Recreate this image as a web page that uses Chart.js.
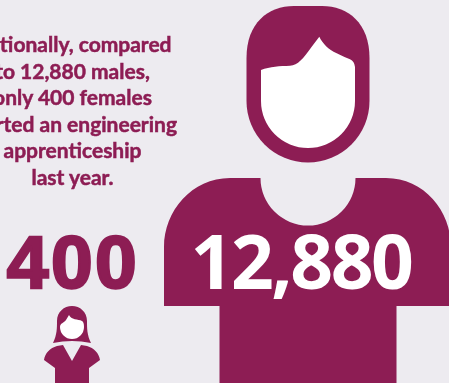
<!DOCTYPE html>
<html>
<head>
<meta charset="utf-8">
<title>Engineering apprenticeship starts</title>
<script src="https://cdn.jsdelivr.net/npm/chart.js@4"></script>
<style>
  html, body { margin: 0; padding: 0; background: #edebf0; overflow: hidden; }
  #wrap { position: relative; width: 449px; height: 383px; overflow: hidden; }
  canvas { display: block; }
  .caption { position: absolute; white-space: nowrap; transform: translateX(-50%); line-height: 1.2; }
  .caption span { display: inline-block; }
</style>
</head>
<body>
<div id="wrap"><canvas id="myChart" width="449" height="383"></canvas></div>
<script>
const categories = ['Females', 'Males'];
const apprentices = [400, 12880];
const summaryLines = [
  'Nationally, compared',
  'to 12,880 males,',
  'only 400 females',
  'started an engineering',
  'apprenticeship',
  'last year.',
];

const MAROON = '#8d1d54';

// Figures are outlined around their feet, x centred, y going up as negatives.
// refValue is the count a figure has at its outlined size; area follows value.
const female = {
  refValue: 400, halfWidth: 30, height: 80,
  draw(ctx) {
    ctx.fillStyle = MAROON;
    ctx.beginPath();
    ctx.moveTo(-19, -40);
    ctx.bezierCurveTo(-15, -48, -15, -55, -15, -62);
    ctx.bezierCurveTo(-15, -71, -8, -77, 0, -77);
    ctx.bezierCurveTo(8, -77, 15, -71, 15, -62);
    ctx.bezierCurveTo(15, -55, 15, -48, 19, -40);
    ctx.quadraticCurveTo(0, -44, -19, -40);
    ctx.closePath();
    ctx.fill();

    ctx.beginPath();
    ctx.moveTo(-9, -38);
    ctx.lineTo(0, -22);
    ctx.lineTo(9, -38);
    ctx.lineTo(15, -37);
    ctx.bezierCurveTo(22, -35, 27, -30, 28, -23);
    ctx.lineTo(17, -15);
    ctx.lineTo(17, 0);
    ctx.lineTo(-17, 0);
    ctx.lineTo(-17, -15);
    ctx.lineTo(-28, -23);
    ctx.bezierCurveTo(-27, -30, -22, -35, -15, -37);
    ctx.closePath();
    ctx.fill();

    ctx.fillStyle = '#fff';
    ctx.beginPath();
    ctx.moveTo(-12, -56);
    ctx.bezierCurveTo(-12, -60, -8, -60, -6, -63);
    ctx.lineTo(-3, -68);
    ctx.bezierCurveTo(-1, -63, 6, -64, 10, -62);
    ctx.quadraticCurveTo(12, -61, 12, -56);
    ctx.arc(0, -56, 12, 0, Math.PI);
    ctx.closePath();
    ctx.fill();
  },
};

const male = {
  refValue: 12880, halfWidth: 146, height: 380,
  draw(ctx) {
    ctx.fillStyle = MAROON;
    // head
    ctx.beginPath();
    ctx.moveTo(-61.5, -283);
    ctx.lineTo(-61.5, -325);
    ctx.bezierCurveTo(-61.5, -360, -40, -377, -14, -377);
    ctx.lineTo(14, -377);
    ctx.bezierCurveTo(40, -377, 61.5, -360, 61.5, -325);
    ctx.lineTo(61.5, -282);
    ctx.arc(0, -282, 61.5, 0, Math.PI);
    ctx.closePath();
    ctx.fill();

    // shirt
    ctx.beginPath();
    ctx.moveTo(-47.5, -205);
    ctx.arc(0, -205, 47.5, Math.PI, 0, true);
    ctx.lineTo(78, -205);
    ctx.bezierCurveTo(116, -205, 143, -172, 143, -136);
    ctx.lineTo(143, -77);
    ctx.lineTo(88.5, -77);
    ctx.lineTo(88.5, 0);
    ctx.lineTo(-88.5, 0);
    ctx.lineTo(-88.5, -77);
    ctx.lineTo(-144, -77);
    ctx.lineTo(-144, -136);
    ctx.bezierCurveTo(-144, -172, -116, -205, -78, -205);
    ctx.closePath();
    ctx.fill();

    // face
    ctx.fillStyle = '#fff';
    ctx.beginPath();
    ctx.moveTo(-47, -313);
    ctx.bezierCurveTo(-38, -316.5, -28, -317, -18, -317.3);
    ctx.bezierCurveTo(-10, -318, -5, -324, 3.7, -336.3);
    ctx.lineTo(11.3, -346.3);
    ctx.bezierCurveTo(15, -339, 20, -334, 28.7, -329.7);
    ctx.quadraticCurveTo(36, -326, 42, -323.7);
    ctx.quadraticCurveTo(46.5, -321.5, 47, -316);
    ctx.lineTo(47, -282);
    ctx.arc(0, -282, 47, 0, Math.PI);
    ctx.closePath();
    ctx.fill();
  },
};

const figures = [female, male];

// Chart.js centres a canvas point style on the point, so the sprite is twice
// the figure's height and the feet land exactly on the data point.
function figureSprite(figure, value) {
  const scale = Math.sqrt(value / figure.refValue);
  const sprite = document.createElement('canvas');
  sprite.width = Math.ceil(figure.halfWidth * scale) * 2;
  sprite.height = Math.ceil(figure.height * scale) * 2;
  const ctx = sprite.getContext('2d');
  ctx.translate(sprite.width / 2, sprite.height / 2);
  ctx.scale(scale, scale);
  figure.draw(ctx);
  return sprite;
}

// Captions sit over the canvas as DOM text. The empty span rests on the
// baseline, which lets the box be moved so the baseline lands on y.
function caption(text, x, y, { font, color, spacing = '0px', stroke = '0px' }) {
  const box = document.createElement('div');
  box.className = 'caption';
  box.textContent = text;
  box.style.font = font;
  box.style.color = color;
  box.style.letterSpacing = spacing;
  box.style.webkitTextStroke = stroke + ' ' + color;
  box.style.left = x + 'px';
  box.style.top = '0px';
  const strut = document.createElement('span');
  box.appendChild(strut);
  document.getElementById('wrap').appendChild(box);
  box.style.top = (y - strut.getBoundingClientRect().bottom) + 'px';
}

const captionPlugin = {
  id: 'captions',
  afterInit(chart) {
    chart.$captionsPending = true;
  },
  afterRender(chart) {
    if (!chart.$captionsPending) return;
    chart.$captionsPending = false;
    const points = chart.getDatasetMeta(0).data;

    summaryLines.forEach((line, i) => caption(line, points[0].x + 0.5, 52 + i * 26.6, {
      font: '700 21px Lato', color: MAROON, stroke: '0.5px',
    }));
    caption(apprentices[0].toLocaleString('en-GB'), points[0].x + 1, 287.5, {
      font: '700 75px "Liberation Sans"', color: MAROON, spacing: '2.5px', stroke: '2.5px',
    });
    caption(apprentices[1].toLocaleString('en-GB'), points[1].x - 7, 289, {
      font: '700 75px "Open Sans"', color: '#fff', spacing: '-2.5px',
    });
  },
};

new Chart(document.getElementById('myChart'), {
  type: 'scatter',
  data: {
    datasets: [{
      label: 'Engineering apprenticeship starts',
      data: categories.map((name, i) => ({ x: i, y: 0 })),
      pointStyle: (c) => figureSprite(figures[c.dataIndex], apprentices[c.dataIndex]),
      clip: false,
    }],
  },
  options: {
    responsive: false,
    animation: false,
    layout: { padding: 0, autoPadding: false },
    plugins: { legend: { display: false }, tooltip: { enabled: false } },
    scales: {
      x: { type: 'linear', display: false, min: -72 / 236, max: 377 / 236 },
      y: { type: 'linear', display: false, min: 0, max: 1 },
    },
  },
  plugins: [captionPlugin],
});
</script>
</body>
</html>
